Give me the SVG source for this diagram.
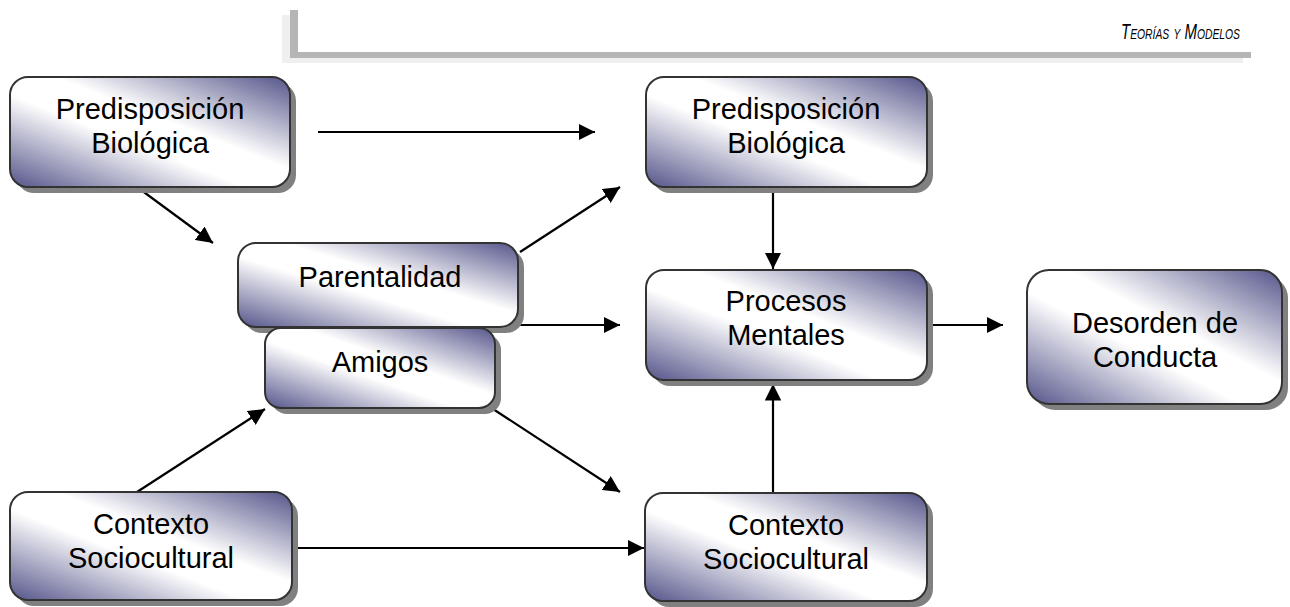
<svg xmlns="http://www.w3.org/2000/svg" width="1290" height="607" viewBox="0 0 1290 607">
  <defs>
    <linearGradient id="boxFill" x1="1" y1="0" x2="0" y2="1">
      <stop offset="0" stop-color="#54548a"/>
      <stop offset="0.42" stop-color="#ffffff"/>
      <stop offset="0.58" stop-color="#ffffff"/>
      <stop offset="1" stop-color="#54548a"/>
    </linearGradient>
    <marker id="arrow" viewBox="0 0 10 10" refX="10" refY="5" markerWidth="7.5" markerHeight="7.5" markerUnits="strokeWidth" orient="auto">
      <path d="M0,0 L10,5 L0,10 Z" fill="#000"/>
    </marker>
  </defs>
  <style>
    .shadow { fill: #808080; }
    .box { fill: url(#boxFill); stroke: #333; stroke-width: 2; }
    .label { font-family: "Liberation Sans", Arial, sans-serif; font-size: 29px; fill: #000; text-anchor: middle; }
    .conn line { stroke: #000; stroke-width: 2.2; marker-end: url(#arrow); }
    .header { font-family: "Liberation Sans", Arial, sans-serif; font-style: italic; font-variant: small-caps; font-size: 22px; fill: #000; }
  </style>

  <rect width="1290" height="607" fill="#ffffff"/>

  <!-- page header rule -->
  <g id="header">
    <path d="M282,15 H290 V58 H1243 V63 H282 Z" fill="#efefef"/>
    <path d="M290,10 H298 V52 H1251 V58 H290 Z" fill="#b5b5b5"/>
    <text class="header" transform="translate(1240,39) scale(0.68,1)" text-anchor="end">Teorías y Modelos</text>
  </g>

  <!-- connectors -->
  <g id="connectors" class="conn">
    <line x1="318" y1="132" x2="595" y2="132"/>
    <line x1="137" y1="187" x2="213" y2="243"/>
    <line x1="520" y1="252" x2="620" y2="187"/>
    <line x1="518" y1="325" x2="620" y2="325"/>
    <line x1="773" y1="187" x2="773" y2="269"/>
    <line x1="929" y1="325" x2="1003" y2="325"/>
    <line x1="493" y1="409" x2="620" y2="492"/>
    <line x1="137" y1="492" x2="265" y2="409"/>
    <line x1="292" y1="548" x2="644" y2="548"/>
    <line x1="773" y1="492" x2="773" y2="384"/>
  </g>

  <g id="pred-left">
    <rect class="shadow" x="16" y="83" width="280" height="110" rx="18"/>
    <rect class="box" x="10" y="77" width="280" height="110" rx="18"/>
    <text class="label" x="150" y="119">Predisposición</text>
    <text class="label" x="150" y="153">Biológica</text>
  </g>

  <g id="pred-right">
    <rect class="shadow" x="652" y="83" width="281" height="110" rx="18"/>
    <rect class="box" x="646" y="77" width="281" height="110" rx="18"/>
    <text class="label" x="786" y="119">Predisposición</text>
    <text class="label" x="786" y="153">Biológica</text>
  </g>

  <g id="parentalidad">
    <rect class="shadow" x="244" y="249" width="280" height="84" rx="18"/>
    <rect class="box" x="238" y="243" width="280" height="84" rx="18"/>
    <text class="label" x="380" y="287">Parentalidad</text>
  </g>

  <g id="amigos">
    <rect class="shadow" x="271" y="334" width="230" height="80" rx="16"/>
    <rect class="box" x="265" y="328" width="230" height="80" rx="16"/>
    <text class="label" x="380" y="372">Amigos</text>
  </g>

  <g id="procesos">
    <rect class="shadow" x="652" y="276" width="281" height="110" rx="18"/>
    <rect class="box" x="646" y="270" width="281" height="110" rx="18"/>
    <text class="label" x="786" y="311">Procesos</text>
    <text class="label" x="786" y="345">Mentales</text>
  </g>

  <g id="desorden">
    <rect class="shadow" x="1033" y="276" width="255" height="134" rx="22"/>
    <rect class="box" x="1027" y="270" width="255" height="134" rx="22"/>
    <text class="label" x="1155" y="333">Desorden de</text>
    <text class="label" x="1155" y="367">Conducta</text>
  </g>

  <g id="contexto-left">
    <rect class="shadow" x="16" y="498" width="282" height="108" rx="18"/>
    <rect class="box" x="10" y="492" width="282" height="108" rx="18"/>
    <text class="label" x="151" y="534">Contexto</text>
    <text class="label" x="151" y="568">Sociocultural</text>
  </g>

  <g id="contexto-right">
    <rect class="shadow" x="651" y="499" width="282" height="108" rx="18"/>
    <rect class="box" x="645" y="493" width="282" height="108" rx="18"/>
    <text class="label" x="786" y="535">Contexto</text>
    <text class="label" x="786" y="569">Sociocultural</text>
  </g>
</svg>
